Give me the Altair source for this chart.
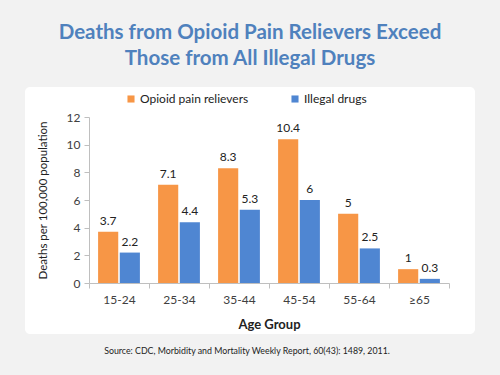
import altair as alt
import pandas as pd

age_groups = ["15-24", "25-34", "35-44", "45-54", "55-64", "≥65"]
opioid = [3.7, 7.1, 8.3, 10.4, 5.0, 1.0]
illegal = [2.2, 4.4, 5.3, 6.0, 2.5, 0.3]
series_names = ["Opioid pain relievers", "Illegal drugs"]
series_colors = ["#F79646", "#4F86D2"]
y_ticks = [0, 2, 4, 6, 8, 10, 12]

title_line1 = "Deaths from Opioid Pain Relievers Exceed"
title_line2 = "Those from All Illegal Drugs"
source_text = "Source: CDC, Morbidity and Mortality Weekly Report, 60(43): 1489, 2011."

rows = []
for g, o, i in zip(age_groups, opioid, illegal):
    rows.append({"age": g, "series": series_names[0], "value": o, "label": f"{o:g}"})
    rows.append({"age": g, "series": series_names[1], "value": i, "label": f"{i:g}"})
df = pd.DataFrame(rows)

FONT = "Lato"

x_enc = alt.X("age:N", sort=age_groups,
              scale=alt.Scale(paddingInner=0, paddingOuter=0),
              axis=alt.Axis(title="Age Group", labelAngle=0, zindex=1, tickBand="extent",
                            titleFontWeight="bold", titleFontSize=13, titlePadding=13,
                            labelFontSize=12, labelPadding=6))
xo_enc = alt.XOffset("series:N", sort=series_names,
                     scale=alt.Scale(paddingInner=0.07, paddingOuter=0.42))
y_enc = alt.Y("value:Q", scale=alt.Scale(domain=[0, 12]),
              axis=alt.Axis(title="Deaths per 100,000 population", values=y_ticks, zindex=1,
                            titleFontWeight="normal", titleFontSize=11.5, titlePadding=18,
                            labelFontSize=12, labelPadding=4))

base = alt.Chart(df)

bars = base.mark_bar().encode(
    x=x_enc, xOffset=xo_enc, y=y_enc,
    color=alt.Color("series:N", sort=series_names,
                    scale=alt.Scale(domain=series_names, range=series_colors),
                    legend=alt.Legend(title=None, orient="none", direction="horizontal",
                                      legendX=36, legendY=-24, symbolType="square",
                                      symbolSize=50, symbolStrokeWidth=0, symbolOffset=0,
                                      labelFontSize=12, labelFont=FONT, labelColor="#222222",
                                      columnPadding=40, labelOffset=3)),
)

labels = base.mark_text(baseline="bottom", dy=-4, fontSize=12, font=FONT, color="#222222").encode(
    x=x_enc, xOffset=xo_enc, y=y_enc, text="label:N"
)

panel = alt.Chart(pd.DataFrame({"p": [0]})).mark_rect(
    fill="white", cornerRadius=5
).encode(x=alt.value(-64), x2=alt.value(386), y=alt.value(-30), y2=alt.value(217))

title_style = dict(fontSize=20.5, fontWeight="bold", font=FONT, color="#4F81BD",
                   baseline="middle", align="center")
title1 = alt.Chart(pd.DataFrame({"t": [title_line1]})).mark_text(**title_style).encode(
    text="t:N", x=alt.value(161), y=alt.value(-84))
title2 = alt.Chart(pd.DataFrame({"t": [title_line2]})).mark_text(**title_style).encode(
    text="t:N", x=alt.value(161), y=alt.value(-58))

source = alt.Chart(pd.DataFrame({"s": [source_text]})).mark_text(
    fontSize=8.8, font=FONT, color="#222222", baseline="middle", align="center"
).encode(text="s:N", x=alt.value(158), y=alt.value(234))

chart = alt.layer(panel, bars, labels, title1, title2, source).properties(
    width=360, height=166, background="#F2F2F2",
    autosize=alt.AutoSizeParams(type="none"),
    padding={"left": 89, "top": 117, "right": 51, "bottom": 92},
).configure_view(stroke=None).configure_axis(
    grid=False, domainColor="#BFBFBF", tickColor="#BFBFBF", tickSize=5,
    labelColor="#404040", titleColor="#222222", labelFont=FONT, titleFont=FONT,
)

chart.save("out.html", embed_options={"renderer": "svg", "actions": False})
